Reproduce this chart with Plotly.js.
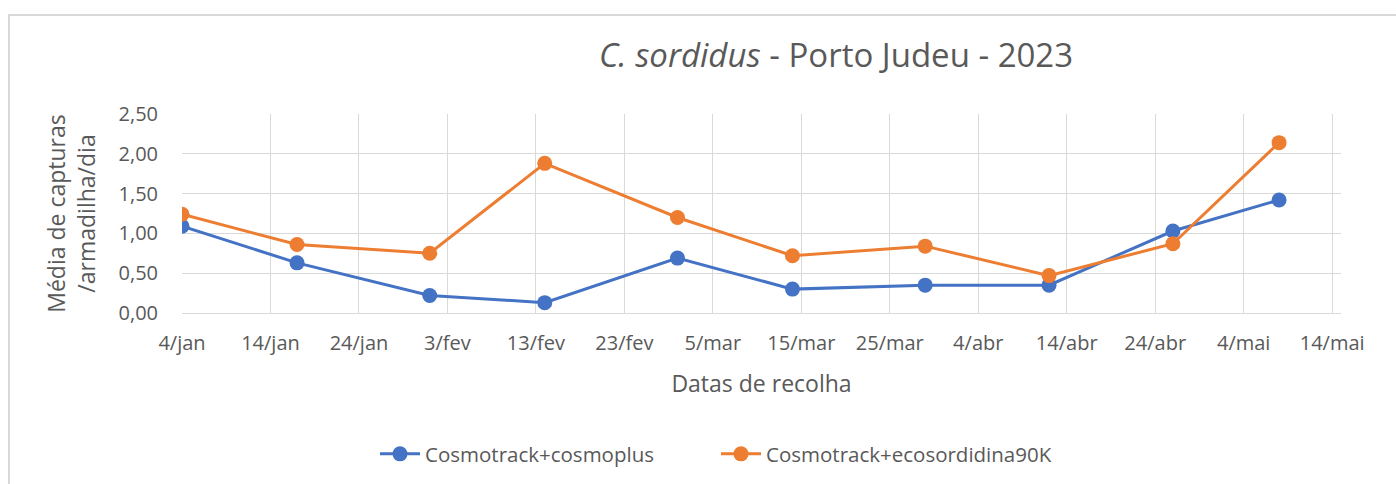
<!DOCTYPE html>
<html>
<head>
<meta charset="utf-8">
<script src="https://cdn.plot.ly/plotly-3.0.1.min.js"></script>
<style>
  html, body { margin: 0; padding: 0; width: 1396px; height: 484px; overflow: hidden; background: #fff; }
  #chart { position: absolute; left: 0; top: 0; width: 1396px; height: 484px; }
  #frame { position: absolute; left: 8px; top: 14px; width: 1400px; height: 500px; border: 2px solid #d9d9d9; pointer-events: none; }
</style>
</head>
<body>
<div id="chart"></div>
<div id="frame"></div>
<script>
// Collection dates
const dates = ['2023-01-04','2023-01-17','2023-02-01','2023-02-14','2023-03-01',
               '2023-03-14','2023-03-29','2023-04-12','2023-04-26','2023-05-08'];
// Series values (média de capturas / armadilha / dia)
const cosmoplus = [1.09, 0.63, 0.22, 0.13, 0.69, 0.30, 0.35, 0.35, 1.03, 1.42];
const ecosordidina = [1.24, 0.86, 0.75, 1.88, 1.20, 0.72, 0.84, 0.47, 0.87, 2.14];
// Series names
const seriesNames = ['Cosmotrack+cosmoplus', 'Cosmotrack+ecosordidina90K'];
// X tick positions and labels
const tickDates = ['2023-01-04','2023-01-14','2023-01-24','2023-02-03','2023-02-13','2023-02-23',
                   '2023-03-05','2023-03-15','2023-03-25','2023-04-04','2023-04-14','2023-04-24',
                   '2023-05-04','2023-05-14'];
const tickLabels = ['4/jan','14/jan','24/jan','3/fev','13/fev','23/fev','5/mar','15/mar',
                    '25/mar','4/abr','14/abr','24/abr','4/mai','14/mai'];

const FONT = 'Open Sans, Noto Sans, sans-serif';
const GREY = '#595959';

const traces = [
  { x: dates, y: cosmoplus, name: seriesNames[0], type: 'scatter', mode: 'lines+markers',
    legend: 'legend',
    line: { color: '#4472C4', width: 3 }, marker: { color: '#4472C4', size: 15 } },
  { x: dates, y: ecosordidina, name: seriesNames[1], type: 'scatter', mode: 'lines+markers',
    legend: 'legend2',
    line: { color: '#ED7D31', width: 3 }, marker: { color: '#ED7D31', size: 15 } }
];

const legendBase = {
  orientation: 'h', xref: 'container', xanchor: 'left',
  y: 1 - 454 / 484, yref: 'container', yanchor: 'middle',
  font: { family: FONT, size: 20.5, color: GREY },
  itemwidth: 40, bgcolor: 'rgba(0,0,0,0)'
};

const layout = {
  width: 1396, height: 484,
  margin: { l: 182, r: 55, t: 114, b: 171, pad: 0 },
  paper_bgcolor: 'rgba(0,0,0,0)', plot_bgcolor: 'rgba(0,0,0,0)',
  separators: ', ',
  font: { family: FONT, color: GREY, size: 20 },
  title: {
    text: '<i>C. sordidus</i> - Porto Judeu - 2023',
    font: { family: FONT, size: 33, color: GREY },
    x: 836 / 1396, xref: 'container', xanchor: 'center',
    y: 1 - 55 / 484, yref: 'container', yanchor: 'middle'
  },
  xaxis: {
    type: 'date',
    range: ['2023-01-04', '2023-05-15'],
    tickmode: 'array', tickvals: tickDates, ticktext: tickLabels,
    showgrid: true, gridcolor: '#d9d9d9', gridwidth: 1,
    showline: true, linecolor: '#d9d9d9', linewidth: 1,
    ticks: '', ticklabelstandoff: 12,
    tickfont: { family: FONT, size: 20, color: GREY },
    zeroline: false,
    title: { text: 'Datas de recolha', font: { family: FONT, size: 23, color: GREY }, standoff: 20 }
  },
  yaxis: {
    range: [0, 2.5], dtick: 0.5, tickformat: '.2f',
    showgrid: true, gridcolor: '#d9d9d9', gridwidth: 1,
    showline: false, zeroline: false,
    ticks: '', ticklabelstandoff: 23,
    tickfont: { family: FONT, size: 20, color: GREY },
    title: { text: 'Média de capturas<br>/armadilha/dia', font: { family: FONT, size: 23, color: GREY }, standoff: 16 }
  },
  showlegend: true,
  legend: Object.assign({}, legendBase, { x: 375 / 1396 }),
  legend2: Object.assign({}, legendBase, { x: 716 / 1396 })
};

Plotly.newPlot('chart', traces, layout, { displayModeBar: false, staticPlot: true });
</script>
</body>
</html>
